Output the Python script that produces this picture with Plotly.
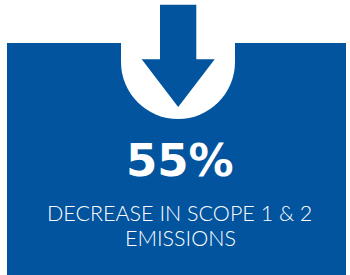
import plotly.graph_objects as go

# Content
value_text = ["55%"]
label_lines = ["DECREASE IN SCOPE 1 & 2", "EMISSIONS"]

BLUE = "#02549F"
W, H = 350, 275

fig = go.Figure()

shapes = [
    # blue panel
    dict(type="rect", x0=7, x1=346, y0=43, y1=275, fillcolor=BLUE, line_width=0, layer="below"),
    # white notch: rect + circle
    dict(type="rect", x0=121, x1=235, y0=42, y1=62, fillcolor="white", line_width=0, layer="below"),
    dict(type="circle", x0=121, x1=235, y0=5, y1=119, fillcolor="white", line_width=0, layer="below"),
    # arrow
    dict(type="path",
         path="M 160 4.7 L 196.3 4.7 L 196.3 59.3 L 214.7 59.3 L 178.2 107 L 141.7 59.3 L 160 59.3 Z",
         fillcolor=BLUE, line_width=0, layer="below"),
]

annotations = [
    dict(x=180, y=160, text=value_text[0], showarrow=False, xanchor="center", yanchor="middle",
         font=dict(family="DejaVu Sans", size=45, color="white", weight=700)),
    dict(x=179.5, y=212.8, text=label_lines[0], showarrow=False, xanchor="center", yanchor="middle",
         font=dict(family="Lato", size=21.5, color="white", weight=300)),
    dict(x=180, y=237.7, text=label_lines[1], showarrow=False, xanchor="center", yanchor="middle",
         font=dict(family="Lato", size=21.5, color="white", weight=300)),
]

fig.update_layout(
    width=W, height=H,
    margin=dict(l=0, r=0, t=0, b=0),
    paper_bgcolor="white", plot_bgcolor="white",
    xaxis=dict(range=[0, W], visible=False, fixedrange=True),
    yaxis=dict(range=[H, 0], visible=False, fixedrange=True),
    shapes=shapes, annotations=annotations, showlegend=False,
)

fig.write_html("out.html", config={"displayModeBar": False},
               post_script="document.body.style.margin='0';document.body.style.overflow='hidden';")
